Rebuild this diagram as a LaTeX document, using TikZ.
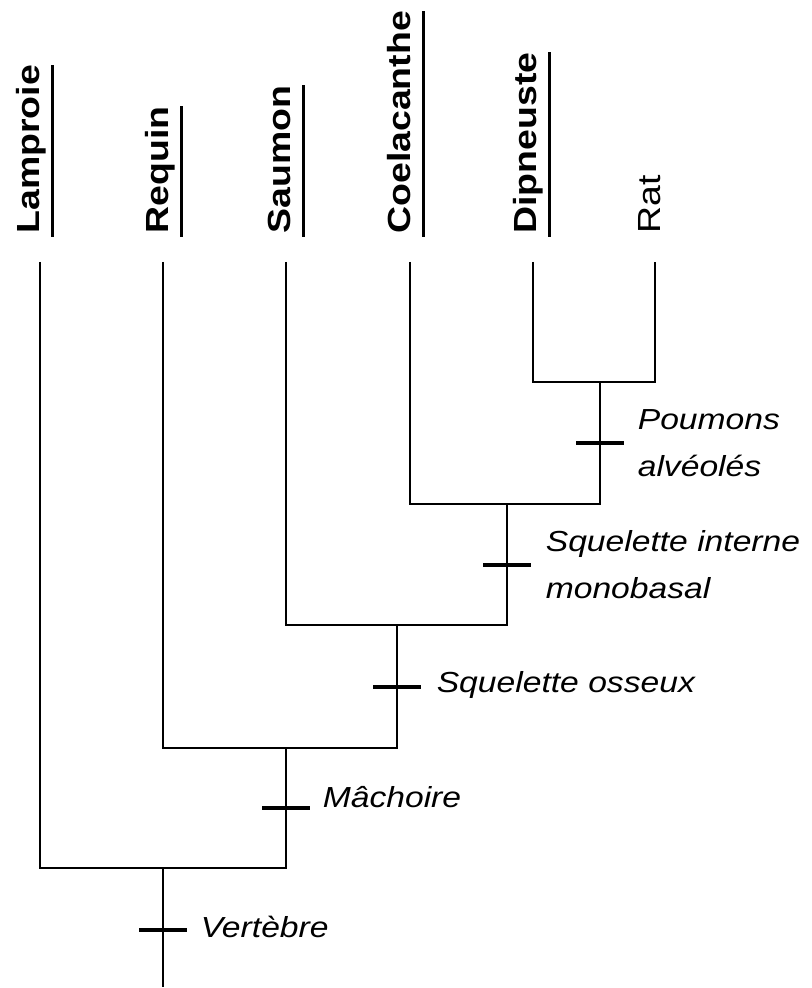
\documentclass[tikz,border=0pt]{standalone}
\usepackage{fontspec}
\setmainfont{Liberation Sans}
\newfontfamily\traitfont[FakeStretch=1.16]{Liberation Sans}
\newfontfamily\taxonfont[FakeStretch=1.17]{Liberation Sans}
\usetikzlibrary{positioning}

\tikzset{
    branch/.style={line width=1pt, line join=miter},
    synapo/.style={rectangle, fill=black, inner sep=0pt, minimum width=24pt, minimum height=1.75pt},
    trait/.style={inner sep=0pt, align=left, font=\traitfont\itshape\fontsize{14.5}{23.5}\selectfont},
    taxon/.style={rotate=90, anchor=base west, inner sep=0pt, font=\taxonfont\bfseries\fontsize{16}{19}\selectfont},
    taxonplain/.style={taxon, font=\taxonfont\fontsize{16}{19}\selectfont},
    souligne/.style={line width=1.5pt}
}

\begin{document}
\begin{tikzpicture}[x=0.5pt, y=-0.5pt]
    \useasboundingbox (0,0) rectangle (811,988);
    % leaf tips
    \coordinate (lamproie) at (40,262);
    \coordinate (requin) at (163,262);
    \coordinate (saumon) at (286,262);
    \coordinate (coelacanthe) at (410,262);
    \coordinate (dipneuste) at (533,262);
    \coordinate (rat) at (655,262);
    % nodes of the tree
    \coordinate (n1) at (600,382);
    \coordinate (n2) at (507,504);
    \coordinate (n3) at (397,625);
    \coordinate (n4) at (286,748);
    \coordinate (n5) at (163,868);
    \coordinate (root) at (163,987);
    % branches
    \draw[branch] (dipneuste) |- (n1) -| (rat);
    \draw[branch] (coelacanthe) |- (n2) -| (n1);
    \draw[branch] (saumon) |- (n3) -| (n2);
    \draw[branch] (requin) |- (n4) -| (n3);
    \draw[branch] (lamproie) |- (n5) -| (n4);
    \draw[branch] (n5) -- (root);
    % synapomorphies
    \node[synapo] (t1) at (600,443) {};
    \node[synapo] (t2) at (507,565) {};
    \node[synapo] (t3) at (397,687) {};
    \node[synapo] (t4) at (286,808) {};
    \node[synapo] (t5) at (163,930) {};
    \node[trait, right=6.5pt of t1] (poumons) {Poumons\\alvéolés};
    \node[trait, right=7pt of t2] (squeint) {Squelette interne\\monobasal};
    \node[trait, right=7.5pt of t3, yshift=1pt] (squeoss) {Squelette osseux};
    \node[trait, right=6pt of t4, yshift=5.5pt] (machoire) {Mâchoire};
    \node[trait, right=6.5pt of t5, yshift=1.5pt] (vertebre) {Vertèbre};
    % taxa
    \node[taxon] (l-lamproie) at (39,234) {Lamproie};
    \node[taxon] (l-requin) at (168,234) {Requin};
    \node[taxon] (l-saumon) at (290,234) {Saumon};
    \node[taxon] (l-coelacanthe) at (410,234) {Coelacanthe};
    \node[taxon] (l-dipneuste) at (536,234) {Dipneuste};
    \node[taxonplain] (l-rat) at (660,234) {Rat};
    % underlines
    \draw[souligne] ([xshift=6.5pt,yshift=-1.5pt]l-lamproie.base west) -- ([xshift=6.5pt]l-lamproie.base east);
    \draw[souligne] ([xshift=6.5pt,yshift=-1.5pt]l-requin.base west) -- ([xshift=6.5pt]l-requin.base east);
    \draw[souligne] ([xshift=6.5pt,yshift=-1.5pt]l-saumon.base west) -- ([xshift=6.5pt]l-saumon.base east);
    \draw[souligne] ([xshift=6.5pt,yshift=-1.5pt]l-coelacanthe.base west) -- ([xshift=6.5pt]l-coelacanthe.base east);
    \draw[souligne] ([xshift=6.5pt,yshift=-1.5pt]l-dipneuste.base west) -- ([xshift=6.5pt]l-dipneuste.base east);
\end{tikzpicture}
\end{document}
